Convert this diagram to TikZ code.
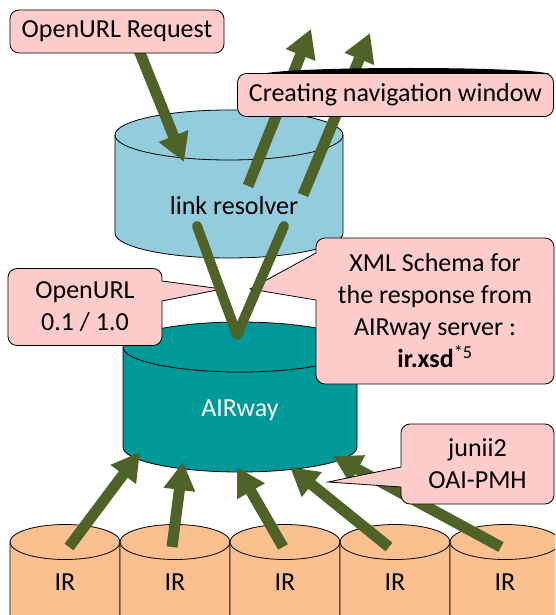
\documentclass[tikz,border=0pt]{standalone}
\usepackage{fontspec}
\setmainfont{Carlito}
\usetikzlibrary{arrows.meta}
\definecolor{callpink}{HTML}{FFCCCC}
\definecolor{resblue}{HTML}{93CDDD}
\definecolor{airteal}{HTML}{009999}
\definecolor{irorange}{HTML}{FAC090}
\definecolor{fatgreen}{HTML}{4F6228}
% cylinder: centre x, top y, x radius, y radius, side height, fill
\newcommand\drum[6]{%
  \filldraw[fill=#6,draw=black,line width=.8pt] (#1+#3,#2) -- ++(0,#5)
    arc[start angle=0,end angle=180,x radius=#3,y radius=#4] -- (#1-#3,#2)
    arc[start angle=180,end angle=360,x radius=#3,y radius=#4] -- cycle;
  \draw[line width=.8pt] (#1-#3,#2) arc[start angle=180,end angle=0,x radius=#3,y radius=#4];
}
\tikzset{
  txt/.style={font=\fontsize{26}{32}\selectfont, inner sep=0pt, align=center},
  callbox/.style={txt, draw=black, fill=callpink, line width=.8pt, rounded corners=9pt},
  fatarrow/.style={draw=fatgreen, line width=11pt, -{Triangle[length=28pt,width=30pt]}},
  vline/.style={draw=fatgreen, line width=10pt, line join=round, line cap=round}
}
\begin{document}
\begin{tikzpicture}[x=1pt,y=-1pt]
\useasboundingbox (0,0) rectangle (555,615);
\clip (0,0) rectangle (555,615);

  % the cylinders
  \drum{229}{135}{114}{25}{98}{resblue}
  \drum{240}{347}{117}{25}{100}{airteal}
  \drum{65}{542}{55}{17.5}{100}{irorange}
  \drum{175}{542}{55}{17.5}{100}{irorange}
  \drum{285}{542}{55}{17.5}{100}{irorange}
  \drum{395}{542}{55}{17.5}{100}{irorange}
  \drum{505}{542}{55}{17.5}{100}{irorange}

  \node[txt] (lr) at (234,206) {link resolver};
  \node[txt, text=white] (air) at (240,410) {AIRway};
  \node[txt] (ir1) at (65,582) {IR};
  \node[txt] (ir2) at (175,582) {IR};
  \node[txt] (ir3) at (285,582) {IR};
  \node[txt] (ir4) at (395,582) {IR};
  \node[txt] (ir5) at (505,582) {IR};

  % arrow ends
  \coordinate (req-out) at (138,48);
  \coordinate (lr-in) at (184,162);
  \coordinate (lr-out1) at (248,186);
  \coordinate (up1) at (311,29);
  \coordinate (lr-out2) at (303,195);
  \coordinate (up2) at (370,33);
  \coordinate (ir1-out) at (69,547);
  \coordinate (ir2-out) at (172,547);
  \coordinate (ir3-out) at (283,547);
  \coordinate (ir4-out) at (389,547);
  \coordinate (ir5-out) at (501,547);
  \coordinate (air-in1) at (140,452);
  \coordinate (air-in2) at (183,462);
  \coordinate (air-in3) at (237,467);
  \coordinate (air-in4) at (290,467);
  \coordinate (air-in5) at (333,456);
  \coordinate (v-left) at (197,226);
  \coordinate (v-bot) at (237,335);
  \coordinate (v-right) at (284,226);

  \draw[fatarrow] (req-out) -- (lr-in);
  \draw[fatarrow] (lr-out1) -- (up1);
  \draw[fatarrow] (lr-out2) -- (up2);
  \draw[fatarrow] (ir1-out) -- (air-in1);
  \draw[fatarrow] (ir2-out) -- (air-in2);
  \draw[fatarrow] (ir3-out) -- (air-in3);
  \draw[fatarrow] (ir4-out) -- (air-in4);
  \draw[fatarrow] (ir5-out) -- (air-in5);

  % the notes
  \fill (262,74) .. controls (290,66) and (530,66) .. (550,74) -- cycle;
  \node[callbox, minimum width=214pt, minimum height=43pt] (req) at (117,31.5) {OpenURL Request};
  \node[callbox, minimum width=316pt, minimum height=43pt] (nav) at (395.5,95) {Creating navigation window};
  \node[callbox, minimum width=154pt, minimum height=77pt] (ver) at (85,307) {OpenURL\\0.1 / 1.0};
  \node[callbox, minimum width=238pt, minimum height=146pt] (xml) at (435,311)
    {XML Schema for\\the response from\\AIRway server :\\\textbf{ir.xsd}\textsuperscript{*5}};
  \node[callbox, minimum width=153pt, minimum height=80pt] (jun) at (477.5,464) {junii2\\OAI-PMH};

  \fill[callpink] (161,281) -- (222,289) -- (161,301) -- cycle;
  \draw[line width=.8pt] (162,281) -- (222,289) -- (162,301);
  \fill[callpink] (317,253) -- (250,289) -- (317,300) -- cycle;
  \draw[line width=.8pt] (316,253) -- (250,289) -- (316,300);
  \fill[callpink] (402,467) -- (328,482) -- (402,487) -- cycle;
  \draw[line width=.8pt] (401,467) -- (328,482) -- (401,487);

  \draw[vline] (v-left) -- (v-bot) -- (v-right);
\end{tikzpicture}
\end{document}
